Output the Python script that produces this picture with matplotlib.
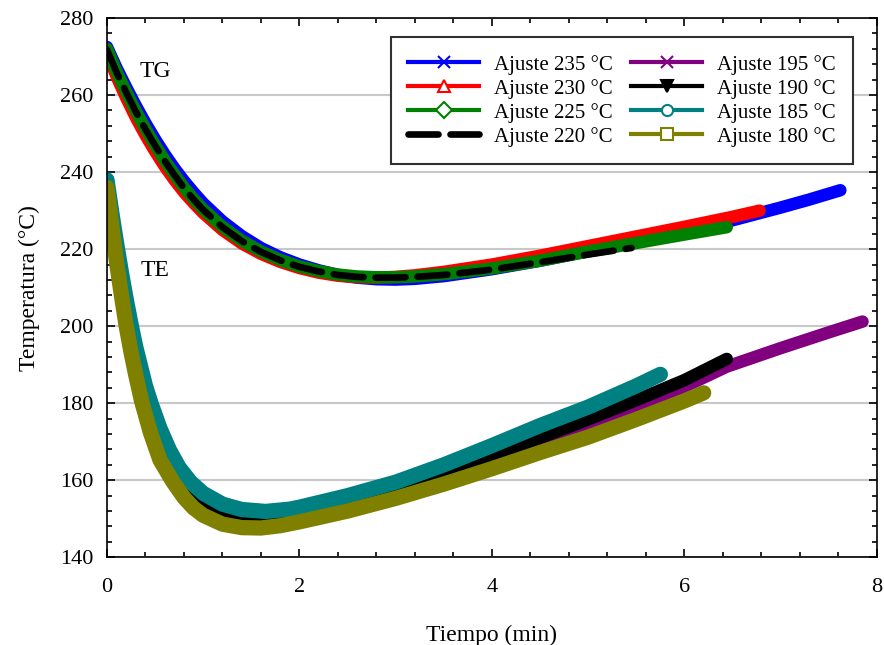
import matplotlib
matplotlib.use('Agg')
import matplotlib.pyplot as plt
from matplotlib.lines import Line2D
from matplotlib.ticker import AutoMinorLocator

plt.rcParams['font.family'] = ['Liberation Serif', 'DejaVu Serif']

# TG curves (235, 230, 225, 220 °C)
t235 = [0.0, 0.1, 0.2, 0.3, 0.4, 0.5, 0.6, 0.7, 0.8, 0.9, 1.0, 1.2, 1.4, 1.6, 1.8, 2.0, 2.2, 2.4, 2.6, 2.8,
        3.0, 3.2, 3.5, 4.0, 4.5, 5.0, 5.5, 6.0, 6.5, 7.0, 7.3, 7.62]
T235 = [272.5, 267.0, 262.0, 257.2, 252.7, 248.5, 244.6, 241.0, 237.7, 234.7, 231.9, 227.2, 223.4, 220.3, 217.9,
        216.0, 214.5, 213.3, 212.6, 212.2, 212.1, 212.3, 213.0, 214.8, 217.0, 219.5, 222.0, 224.6, 227.5, 230.8,
        232.9, 235.3]
t230 = [0.0, 0.1, 0.2, 0.3, 0.4, 0.5, 0.6, 0.7, 0.8, 0.9, 1.0, 1.2, 1.4, 1.6, 1.8, 2.0, 2.2, 2.4, 2.6, 2.8,
        3.0, 3.2, 3.5, 4.0, 4.5, 5.0, 5.5, 6.0, 6.5, 6.78]
T230 = [271.0, 264.8, 259.3, 254.2, 249.6, 245.4, 241.5, 238.0, 234.8, 232.0, 229.4, 225.0, 221.5, 218.8, 216.7,
        215.1, 213.9, 213.1, 212.7, 212.6, 212.8, 213.2, 214.1, 216.0, 218.3, 220.8, 223.3, 225.8, 228.4, 230.0]
t225 = [0.0, 0.1, 0.2, 0.3, 0.4, 0.5, 0.6, 0.7, 0.8, 0.9, 1.0, 1.2, 1.4, 1.6, 1.8, 2.0, 2.2, 2.4, 2.6, 2.8,
        3.0, 3.2, 3.5, 4.0, 4.5, 5.0, 5.5, 6.0, 6.44]
T225 = [272.0, 266.0, 260.8, 255.8, 251.2, 247.0, 243.0, 239.4, 236.0, 233.0, 230.3, 225.8, 222.2, 219.4, 217.2,
        215.5, 214.3, 213.4, 212.9, 212.7, 212.7, 212.9, 213.5, 215.0, 217.0, 219.4, 221.6, 223.8, 225.7]
t220 = [0.0, 0.1, 0.2, 0.3, 0.4, 0.5, 0.6, 0.7, 0.8, 0.9, 1.0, 1.2, 1.4, 1.6, 1.8, 2.0, 2.2, 2.4, 2.6, 2.8,
        3.0, 3.2, 3.5, 4.0, 4.5, 5.0, 5.45]
T220 = [271.8, 265.9, 260.7, 255.7, 251.1, 246.9, 242.9, 239.3, 235.9, 232.9, 230.2, 225.7, 222.1, 219.3, 217.1,
        215.4, 214.2, 213.3, 212.8, 212.6, 212.6, 212.8, 213.3, 214.7, 216.6, 218.6, 220.3]

# TE curves (195, 190, 185, 180 °C)
t195 = [0.0, 0.05, 0.1, 0.15, 0.2, 0.25, 0.3, 0.4, 0.5, 0.6, 0.7, 0.8, 0.9, 1.0, 1.2, 1.4, 1.6, 1.8, 2.0, 2.5,
        3.0, 3.5, 4.0, 4.5, 5.0, 5.5, 6.0, 6.44, 7.0, 7.5, 7.85]
T195 = [236.5, 227.3, 218.7, 210.7, 203.4, 196.6, 190.6, 180.6, 172.6, 166.1, 161.1, 157.2, 154.3, 152.2, 150.0,
        149.3, 149.2, 149.6, 150.5, 153.2, 156.6, 160.4, 164.6, 169.4, 174.5, 179.3, 184.3, 189.5, 194.3, 198.4,
        201.2]
t190 = [0.0, 0.05, 0.1, 0.15, 0.2, 0.25, 0.3, 0.4, 0.5, 0.6, 0.7, 0.8, 0.9, 1.0, 1.2, 1.4, 1.6, 1.8, 2.0, 2.5,
        3.0, 3.5, 4.0, 4.5, 5.0, 5.5, 6.0, 6.44]
T190 = [236.5, 227.5, 219.0, 211.0, 203.8, 197.0, 191.0, 181.0, 173.0, 166.5, 161.5, 157.6, 154.7, 152.6, 150.4,
        149.6, 149.5, 150.0, 150.9, 153.8, 157.4, 161.6, 166.2, 171.0, 175.8, 180.8, 186.0, 191.5]
t185 = [0.0, 0.05, 0.1, 0.15, 0.2, 0.25, 0.3, 0.4, 0.46, 0.55, 0.65, 0.75, 0.87, 1.0, 1.2, 1.4, 1.65, 1.9, 2.0,
        2.5, 3.0, 3.5, 4.0, 4.5, 5.0, 5.5, 5.75]
T185 = [238.0, 229.5, 221.5, 214.0, 207.0, 200.5, 194.5, 184.5, 179.8, 173.5, 167.8, 163.3, 159.5, 156.6, 153.8,
        152.4, 151.9, 152.5, 153.0, 156.0, 159.5, 164.0, 169.0, 174.2, 179.0, 184.5, 187.5]
t180 = [0.0, 0.05, 0.1, 0.15, 0.2, 0.25, 0.3, 0.36, 0.45, 0.55, 0.68, 0.8, 0.9, 1.0, 1.2, 1.4, 1.6, 1.8, 2.0,
        2.5, 3.0, 3.5, 4.0, 4.5, 5.0, 5.5, 6.0, 6.2]
T180 = [236.0, 226.0, 216.5, 208.0, 200.0, 193.2, 187.2, 180.5, 172.5, 165.3, 159.8, 155.5, 152.8, 150.9, 148.6,
        147.7, 147.6, 148.2, 149.2, 152.0, 155.3, 159.0, 163.0, 167.2, 171.2, 175.8, 180.6, 182.7]

labels = ['Ajuste 235 °C', 'Ajuste 230 °C', 'Ajuste 225 °C', 'Ajuste 220 °C',
          'Ajuste 195 °C', 'Ajuste 190 °C', 'Ajuste 185 °C', 'Ajuste 180 °C']
colors = ['#0000ff', '#ff0000', '#008000', '#000000', '#800080', '#000000', '#008080', '#808000']
markers = ['x', '^', 'D', None, 'x', 'v', 'o', 's']

fig = plt.figure(figsize=(8.84, 6.45), dpi=100)
ax = fig.add_axes([0.121, 0.136, 0.871, 0.836])

ax.plot(t235, T235, color=colors[0], lw=9, solid_capstyle='round')
ax.plot(t230, T230, color=colors[1], lw=9, solid_capstyle='round')
ax.plot(t225, T225, color=colors[2], lw=9, solid_capstyle='round')
ax.plot(t220, T220, color=colors[3], lw=4.8, dashes=(4.5, 1.8), dash_capstyle='round')

ax.plot(t195, T195, color=colors[4], lw=9, solid_capstyle='round')
ax.plot(t190, T190, color=colors[5], lw=9, solid_capstyle='round')
ax.plot(t185, T185, color=colors[6], lw=11, solid_capstyle='round')
ax.plot(t180, T180, color=colors[7], lw=11, solid_capstyle='round')

ax.text(0.5, 266, 'TG', fontsize=17, ha='center', va='center')
ax.text(0.5, 214.5, 'TE', fontsize=17, ha='center', va='center')

ax.set_xlim(0, 8)
ax.set_ylim(140, 280)
ax.set_xticks([0, 2, 4, 6, 8])
ax.set_yticks(range(140, 281, 20))
ax.xaxis.set_minor_locator(AutoMinorLocator(5))
ax.yaxis.set_minor_locator(AutoMinorLocator(5))
ax.tick_params(which='both', direction='in', top=True, right=True, labelsize=16, width=1.2)
ax.tick_params(which='major', length=6)
ax.tick_params(axis='x', which='major', pad=15)
ax.tick_params(axis='y', which='major', pad=10)
ax.tick_params(which='minor', length=3.5)
ax.grid(axis='y', which='major', color='#c8c8c8', lw=1.5)
ax.set_axisbelow(True)
for s in ax.spines.values():
    s.set_linewidth(1.2)

ax.set_xlabel('Tiempo (min)', fontsize=17, labelpad=20)
ax.set_ylabel('Temperatura (°C)', fontsize=17, labelpad=14)

handles = []
for c, m, lab in zip(colors, markers, labels):
    if m is None:
        h = Line2D([], [], color=c, lw=4.8, dashes=(4.5, 1.8), dash_capstyle='round', label=lab)
    elif m in ('x', 'v'):
        h = Line2D([], [], color=c, lw=3, marker=m, markersize=9, mew=1.5, label=lab)
    else:
        h = Line2D([], [], color=c, lw=3, marker=m, markersize=8, mfc='white', mew=1.5, label=lab)
    handles.append(h)
leg = ax.legend(handles=handles, ncol=2, loc='upper right', bbox_to_anchor=(0.969, 0.965),
                borderaxespad=0, fontsize=15, handlelength=3.4, handletextpad=0.7, columnspacing=0.9,
                labelspacing=0.2, borderpad=0.85, fancybox=False, framealpha=1, numpoints=1)
leg.get_frame().set_edgecolor('#303030')
leg.get_frame().set_linewidth(1.5)

fig.savefig('out.png', dpi=100)
